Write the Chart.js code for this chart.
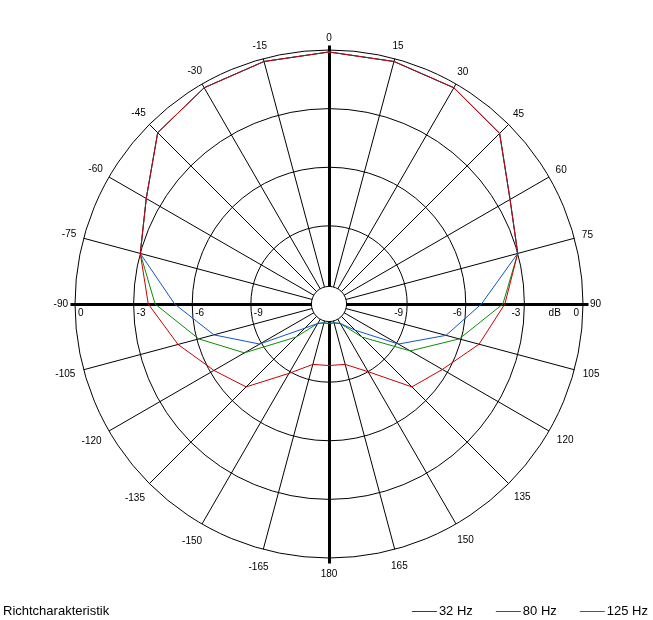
<!DOCTYPE html>
<html>
<head>
<meta charset="utf-8">
<title>Richtcharakteristik</title>
<script src="https://cdn.jsdelivr.net/npm/chart.js@4.4.1/dist/chart.umd.min.js"></script>
<style>
  html, body { margin: 0; padding: 0; background: #fff; }
  canvas { display: block; }
</style>
</head>
<body>
<canvas id="polar" width="653" height="620"></canvas>
<script>
// angles in degrees, 0 at the top, clockwise
const angles = [0, 15, 30, 45, 60, 75, 90, 105, 120, 135, 150, 165,
                180, -165, -150, -135, -120, -105, -90, -75, -60, -45, -30, -15];

// level in dB for each angle
const hz32  = [-0.1, -0.15, -0.22, -0.65, -2.3, -3.0, -4.0, -5.05, -6.3, -7.0, -9.0, -9.8,
               -9.85, -9.8, -8.9, -7.0, -6.2, -5.0, -3.75, -3.0, -2.2, -0.6, -0.22, -0.15];
const hz80  = [-0.1, -0.15, -0.22, -0.65, -2.3, -3.0, -5.2, -6.8, -8.9, -11.1, -11.85, -12,
               -12, -12, -11.85, -11.25, -8.9, -6.9, -5.1, -3.0, -2.2, -0.6, -0.22, -0.15];
const hz125 = [-0.1, -0.15, -0.22, -0.65, -2.3, -3.0, -4.1, -6.1, -8.2, -10.6, -11.85, -12,
               -12, -12, -11.85, -10.6, -8.0, -6.1, -4.1, -3.0, -2.2, -0.6, -0.22, -0.15];

const seriesNames = ['32 Hz', '80 Hz', '125 Hz'];
const seriesColors = ['#c80000', '#0f55c8', '#0c8c0c'];
const dbTicks = [0, -3, -6, -9];
const chartTitle = 'Richtcharakteristik';

const DB_CENTER = -13;   // value at the very centre
const DB_HOLE = -12.1;   // white hole in the middle

const smallFont = '10px "Liberation Sans", Arial, sans-serif';
const bigFont = '13px "Liberation Sans", Arial, sans-serif';

const polarDecor = {
    id: 'polarDecor',
    beforeDatasetsDraw(chart) {
        const r = chart.scales.r;
        const ctx = chart.ctx;
        const axisLen = r.drawingArea + 5;
        ctx.save();
        ctx.translate(0.5, 0.5);
        ctx.strokeStyle = '#000';
        ctx.lineWidth = 3;
        [0, 6].forEach(i => {
            const a = r.getPointPosition(i, axisLen);
            const b = r.getPointPosition(i + 12, axisLen);
            ctx.beginPath();
            ctx.moveTo(Math.round(a.x), Math.round(a.y));
            ctx.lineTo(Math.round(b.x), Math.round(b.y));
            ctx.stroke();
        });
        ctx.restore();

        // hole in the middle
        ctx.save();
        ctx.beginPath();
        ctx.arc(r.xCenter, r.yCenter, r.getDistanceFromCenterForValue(DB_HOLE), 0, Math.PI * 2);
        ctx.fillStyle = '#fff';
        ctx.fill();
        ctx.strokeStyle = '#000';
        ctx.lineWidth = 1;
        ctx.stroke();
        ctx.restore();
    },
    afterDraw(chart) {
        const r = chart.scales.r;
        const ctx = chart.ctx;
        ctx.save();
        ctx.fillStyle = '#000';

        // angle labels round the outside
        ctx.font = smallFont;
        ctx.textAlign = 'center';
        ctx.textBaseline = 'middle';
        chart.data.labels.forEach((lbl, i) => {
            const w = ctx.measureText(lbl).width;
            const rad = angles[i] * Math.PI / 180;
            const c = Math.cos(rad);
            const d = r.drawingArea + 7 + (w / 2) * Math.abs(Math.sin(rad)) + (c < 0 ? 9 : 4.5) * Math.abs(c);
            const p = r.getPointPosition(i, d);
            ctx.fillText(lbl, p.x, p.y);
        });

        // dB labels along the horizontal axis
        const y = r.yCenter + 9;
        dbTicks.forEach(v => {
            const d = r.getDistanceFromCenterForValue(v);
            ctx.textAlign = 'left';
            ctx.fillText(String(v), r.xCenter - d + 3, y);
            ctx.textAlign = 'right';
            ctx.fillText(String(v), r.xCenter + d - 4, y);
        });
        ctx.textAlign = 'center';
        const dbX = r.xCenter + (r.getDistanceFromCenterForValue(-3) + r.getDistanceFromCenterForValue(0)) / 2 + 1;
        ctx.fillText('dB', dbX, y);

        // title and legend along the bottom
        ctx.font = bigFont;
        ctx.textAlign = 'left';
        ctx.textBaseline = 'alphabetic';
        ctx.fillText(chartTitle, 3, 615);

        let x = chart.width - 5;
        const datasets = chart.data.datasets;
        for (let i = datasets.length - 1; i >= 0; i--) {
            const ds = datasets[i];
            const w = ctx.measureText(ds.label).width;
            x -= w;
            ctx.fillStyle = '#000';
            ctx.fillText(ds.label, x, 615);
            x -= 2;
            ctx.strokeStyle = ds.borderColor;
            ctx.lineWidth = 1;
            ctx.beginPath();
            ctx.moveTo(x - 25, 611.5);
            ctx.lineTo(x, 611.5);
            ctx.stroke();
            x -= 25 + 23;
        }
        ctx.restore();
    }
};

const seriesData = [hz32, hz80, hz125];

new Chart(document.getElementById('polar'), {
    type: 'radar',
    data: {
        labels: angles.map(a => String(a)),
        datasets: seriesData.map((values, i) => ({
            label: seriesNames[i],
            data: values,
            borderColor: seriesColors[i],
            backgroundColor: seriesColors[i],
            borderWidth: 1,
            fill: false,
            tension: 0,
            pointRadius: 0,
            pointHitRadius: 0
        }))
    },
    options: {
        responsive: false,
        devicePixelRatio: 1,
        animation: false,
        events: [],
        layout: {
            padding: { left: 75, top: 50, right: 70, bottom: 62 }
        },
        scales: {
            r: {
                min: DB_CENTER,
                max: 0,
                startAngle: 0,
                ticks: { display: false, stepSize: 3 },
                pointLabels: { display: false },
                grid: {
                    circular: true,
                    lineWidth: 1,
                    color: ctx => (ctx.tick && ctx.tick.value > -12 && ctx.tick.value % 3 === 0) ? '#000' : 'rgba(0,0,0,0)'
                },
                angleLines: {
                    display: true,
                    color: '#000',
                    lineWidth: ctx => (ctx.index % 6 === 0 ? 0 : 1)
                }
            }
        },
        plugins: {
            legend: { display: false },
            tooltip: { enabled: false }
        }
    },
    plugins: [polarDecor]
});
</script>
</body>
</html>
